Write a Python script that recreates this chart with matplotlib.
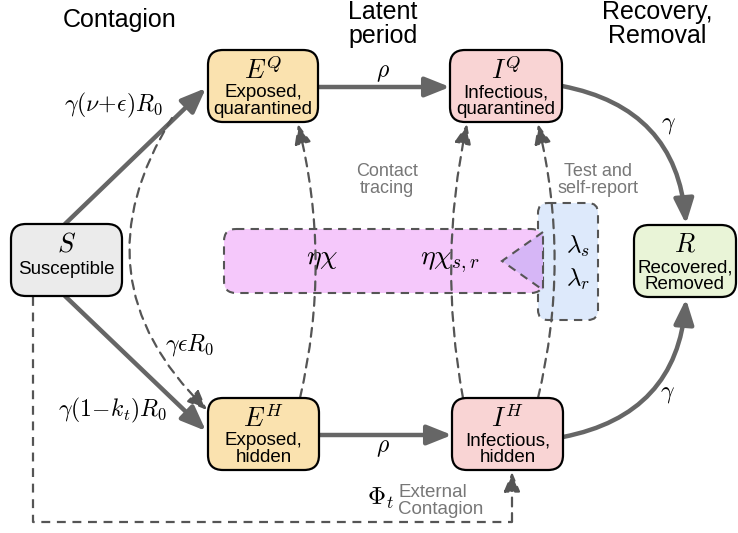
#!/usr/bin/env python3
import matplotlib
matplotlib.use('Agg')
import matplotlib.pyplot as plt
from matplotlib.patches import FancyBboxPatch, FancyArrowPatch, Polygon

plt.rcParams['font.family'] = ['Liberation Sans', 'DejaVu Sans']
plt.rcParams['mathtext.fontset'] = 'cm'

# compartments: key, symbol, description, fill colour
nodes = ['S', 'EQ', 'IQ', 'EH', 'IH', 'R']
symbols = [r'$S$', r'$E^Q$', r'$I^Q$', r'$E^H$', r'$I^H$', r'$R$']
descriptions = ['Susceptible', 'Exposed,\nquarantined', 'Infectious,\nquarantined',
                'Exposed,\nhidden', 'Infectious,\nhidden', 'Recovered,\nRemoved']
fills = ['#ebebeb', '#fae2af', '#f9d4d4', '#fae2af', '#f9d4d4', '#e9f4d7']

# layout in pixels (x0, y0, x1, y1), y grows downward
boxes = {
    'S': (11, 224, 122, 296),
    'EQ': (208, 50, 318, 122),
    'IQ': (450, 50, 562, 122),
    'EH': (208, 398, 319, 470),
    'IH': (452, 398, 563, 470),
    'R': (634, 225, 736, 297),
}

stage_titles = ['Contagion', 'Latent\nperiod', 'Recovery,\nRemoval']

ARROW = '#666666'
DASH = '#555555'


def main():
    fig = plt.figure(figsize=(7.38, 5.33), dpi=100)
    ax = fig.add_axes([0, 0, 1, 1])
    ax.set_xlim(0, 738)
    ax.set_ylim(533, 0)
    ax.axis('off')

    # shaded helper regions
    ax.add_patch(FancyBboxPatch((538, 203), 60, 117, boxstyle='round,pad=0,rounding_size=10',
                                fc='#dde9fb', ec=DASH, lw=1.5, ls=(0, (4, 3)), zorder=1))
    ax.add_patch(FancyBboxPatch((224, 229), 319, 64, boxstyle='round,pad=0,rounding_size=12',
                                fc='#f5c8fb', ec=DASH, lw=1.5, ls=(0, (4, 3)), zorder=2))
    ax.add_patch(Polygon([(543, 232), (502, 261), (543, 290)], closed=True,
                         fc='#d6b6f6', ec=DASH, lw=1.5, ls=(0, (4, 3)), zorder=3))

    # compartments
    for key, sym, desc, fc in zip(nodes, symbols, descriptions, fills):
        x0, y0, x1, y1 = boxes[key]
        ax.add_patch(FancyBboxPatch((x0, y0), x1 - x0, y1 - y0,
                                    boxstyle='round,pad=0,rounding_size=15',
                                    fc=fc, ec='black', lw=1.6, zorder=6))
        cx = (x0 + x1) / 2
        ax.text(cx, y0 + 20, sym, fontsize=19, ha='center', va='center', zorder=7)
        if '\n' in desc:
            ax.text(cx, y0 + 51, desc, fontsize=13.5, ha='center', va='center',
                    linespacing=0.95, zorder=7)
        else:
            ax.text(cx, y0 + 46, desc, fontsize=13.5, ha='center', va='center', zorder=7)

    def arrow(p, q, rad=0.0, dashed=False):
        if dashed:
            style = '-|>,head_length=0.6,head_width=0.25'
            kw = dict(color=DASH, lw=1.6, linestyle=(0, (4, 3)))
        else:
            style = '-|>,head_length=0.75,head_width=0.3'
            kw = dict(color=ARROW, lw=3.2)
        a = FancyArrowPatch(p, q, arrowstyle=style, mutation_scale=20,
                            connectionstyle=f'arc3,rad={rad}', shrinkA=0, shrinkB=0,
                            zorder=5, **kw)
        ax.add_patch(a)

    # solid transitions
    arrow((65, 224), (206, 88))
    arrow((65, 296), (206, 431))
    arrow((318, 87), (450, 87))
    arrow((319, 435), (452, 435))
    arrow((562, 86), (686, 224), rad=-0.38)
    arrow((563, 437), (686, 299), rad=0.38)

    # dashed transitions
    arrow((172, 118), (207, 410), rad=0.4, dashed=True)
    arrow((300, 398), (298, 124), rad=0.12, dashed=True)
    arrow((463, 398), (467, 124), rad=-0.1, dashed=True)
    arrow((538, 398), (538, 124), rad=0.12, dashed=True)

    # external contagion path
    ax.plot([33, 33, 512], [297, 522, 522], color=DASH, lw=1.6, ls=(0, (4, 3)), zorder=5)
    arrow((512, 522), (512, 472), dashed=True)

    # stage titles
    ax.text(120, 20, stage_titles[0], fontsize=18, ha='center', va='center')
    ax.text(383, 24, stage_titles[1], fontsize=18, ha='center', va='center', linespacing=0.95)
    ax.text(657, 24, stage_titles[2], fontsize=18, ha='center', va='center', linespacing=0.95)

    # rates
    ax.text(113, 105, r'$\gamma(\nu\!+\!\epsilon)R_0$', fontsize=17, ha='center', va='center')
    ax.text(113, 410, r'$\gamma(1\!-\!k_t)R_0$', fontsize=17, ha='center', va='center')
    ax.text(190, 345, r'$\gamma\epsilon R_0$', fontsize=17, ha='center', va='center')
    ax.text(383, 73, r'$\rho$', fontsize=17, ha='center', va='center')
    ax.text(383, 448, r'$\rho$', fontsize=17, ha='center', va='center')
    ax.text(668, 125, r'$\gamma$', fontsize=17, ha='center', va='center')
    ax.text(667, 394, r'$\gamma$', fontsize=17, ha='center', va='center')
    ax.text(322, 259, r'$\eta\chi$', fontsize=20, ha='center', va='center', zorder=4)
    ax.text(450, 262, r'$\eta\chi_{s,r}$', fontsize=20, ha='center', va='center', zorder=4)
    ax.text(578, 246, r'$\lambda_s$', fontsize=18, ha='center', va='center', zorder=4)
    ax.text(578, 279, r'$\lambda_r$', fontsize=18, ha='center', va='center', zorder=4)
    ax.text(380, 498, r'$\Phi_t$', fontsize=18, ha='center', va='center')

    # annotations
    grey = '#777777'
    ax.text(387, 180, 'Contact\ntracing', fontsize=13, color=grey, ha='center', va='center',
            linespacing=1.05)
    ax.text(598, 180, 'Test and\nself-report', fontsize=13, color=grey, ha='center',
            va='center', linespacing=1.05)
    ax.text(398, 501, 'External\nContagion', fontsize=13.5, color=grey, ha='left',
            va='center', linespacing=1.05)

    fig.savefig('out.png', dpi=100)


if __name__ == '__main__':
    main()
